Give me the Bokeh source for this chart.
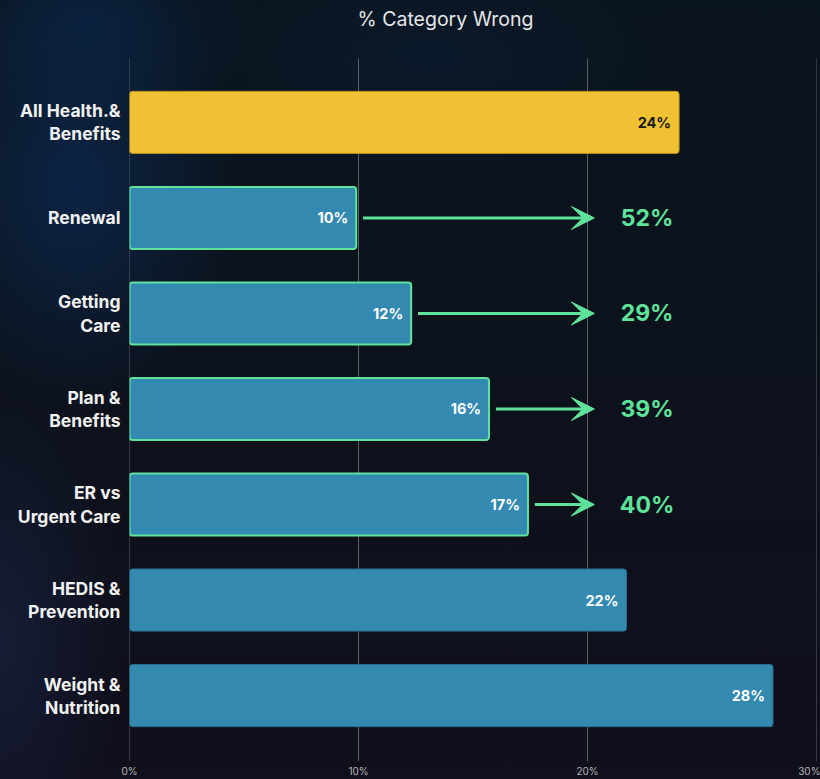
import numpy as np
from bokeh.plotting import figure
from bokeh.models import ColumnDataSource, Range1d, FixedTicker, Arrow, VeeHead
from bokeh.embed import file_html
from bokeh.resources import INLINE
from bokeh.core.properties import value

# ---- data ----
title_text = "% Category Wrong"
categories = ["All Health.&\nBenefits", "Renewal", "Getting\nCare", "Plan &\nBenefits",
              "ER vs\nUrgent Care", "HEDIS &\nPrevention", "Weight &\nNutrition"]
pct_wrong = [24.0, 9.9, 12.3, 15.7, 17.4, 21.7, 28.1]
highlight = [True, False, False, False, False, False, False]
outlined = [False, True, True, True, True, False, False]
uplift_labels = ["", "52%", "29%", "39%", "40%", "", ""]
x_ticks = [0, 10, 20, 30]
x_tick_labels = ["0%", "10%", "20%", "30%"]
arrow_target = 20.3
uplift_x = 22.6

BLUE = "#3389b0"
YELLOW = "#f0c132"
GREEN = "#5fe39b"
FONT = "Inter"

n = len(categories)
ypos = np.arange(n)
grid_top, grid_bottom = -0.67, n - 1 + 0.69
y_top = -1.276

bar_src = ColumnDataSource(dict(
    y=ypos,
    x=pct_wrong,
    fill=[YELLOW if h else BLUE for h in highlight],
    line=[GREEN if o else ("#b89220" if h else "#2a6f8f") for o, h in zip(outlined, highlight)],
    lw=[2 if o else 1 for o in outlined],
    lbl=[f"{round(v)}%" for v in pct_wrong],
    lblc=["#1a1a1a" if h else "#ffffff" for h in highlight],
))

p = figure(width=820, height=779, output_backend="svg", toolbar_location=None,
           x_range=Range1d(0, 30), y_range=Range1d(grid_bottom, y_top),
           min_border_left=129, min_border_right=4, min_border_top=0, min_border_bottom=17)
p.title = None
p.background_fill_color = None
p.border_fill_color = None
p.outline_line_color = None
p.styles = {
    "background": (
        "radial-gradient(ellipse 170px 230px at 75px 185px, rgba(12,48,96,0.60), rgba(12,48,96,0) 100%),"
        "radial-gradient(ellipse 170px 110px at 90px 20px, rgba(10,40,80,0.50), rgba(10,40,80,0) 100%),"
        "radial-gradient(ellipse 260px 120px at 430px 60px, rgba(10,38,75,0.30), rgba(10,38,75,0) 100%),"
        "radial-gradient(ellipse 120px 260px at 0px 640px, rgba(30,45,85,0.45), rgba(30,45,85,0) 100%),"
        "linear-gradient(180deg, #0a141d 0%, #0c121c 45%, #100f1c 100%)"
    )
}

# vertical grid lines at the x ticks
p.segment(x0=x_ticks, y0=[grid_top] * len(x_ticks), x1=x_ticks, y1=[grid_bottom] * len(x_ticks),
          line_color="#5a5f66", line_width=1)

# title
p.text(x=[13.8], y=[y_top + 0.19], text=[title_text], text_align="center",
       text_baseline="middle", text_color="#e6e6e6", text_font=value(FONT),
       text_font_size="19.5px", text_font_style="normal")

p.hbar(y="y", right="x", left=0, height=0.65, source=bar_src,
       fill_color="fill", line_color="line", line_width="lw", border_radius=3)

p.text(x="x", y="y", text="lbl", source=bar_src, x_offset=-8,
       text_align="right", text_baseline="middle", text_color="lblc",
       text_font=value(FONT), text_font_size="14.5px", text_font_style="bold")

# arrows and uplift labels
arr_idx = [i for i, u in enumerate(uplift_labels) if u]
arr_src = ColumnDataSource(dict(
    xs=[pct_wrong[i] + 0.3 for i in arr_idx],
    xe=[arrow_target] * len(arr_idx),
    y=[ypos[i] for i in arr_idx],
    lbl=[uplift_labels[i] for i in arr_idx],
    lx=[uplift_x] * len(arr_idx),
))
p.add_layout(Arrow(end=VeeHead(size=23, fill_color=GREEN, line_color=GREEN, line_width=1),
                   x_start="xs", y_start="y", x_end="xe", y_end="y", source=arr_src,
                   line_color=GREEN, line_width=3))
p.text(x="lx", y="y", text="lbl", source=arr_src, text_align="center",
       text_baseline="middle", text_color=GREEN, text_font=value(FONT),
       text_font_size="23px", text_font_style="bold")

# axes
p.xaxis.ticker = FixedTicker(ticks=x_ticks)
p.xaxis.major_label_overrides = {t: l for t, l in zip(x_ticks, x_tick_labels)}
p.xaxis.axis_line_color = None
p.xaxis.major_tick_line_color = None
p.xaxis.minor_tick_line_color = None
p.xaxis.major_tick_out = 0
p.xaxis.major_tick_in = 0
p.xaxis.minor_tick_out = 0
p.xaxis.major_label_text_color = "#b5b5b5"
p.xaxis.major_label_text_font = FONT
p.xaxis.major_label_text_font_size = "10px"
p.xaxis.major_label_standoff = 3

p.yaxis.ticker = FixedTicker(ticks=list(ypos))
p.yaxis.major_label_overrides = {int(i): c for i, c in zip(ypos, categories)}
p.yaxis.axis_line_color = None
p.yaxis.major_tick_line_color = None
p.yaxis.minor_tick_line_color = None
p.yaxis.major_label_text_color = "#f2f2f2"
p.yaxis.major_label_text_font = FONT
p.yaxis.major_label_text_font_style = "bold"
p.yaxis.major_label_text_font_size = "17.5px"
p.yaxis.major_label_text_line_height = 1.1
p.yaxis.major_label_standoff = 3

p.xgrid.grid_line_color = None
p.ygrid.grid_line_color = None

open("out.html", "w").write(file_html(p, INLINE))
